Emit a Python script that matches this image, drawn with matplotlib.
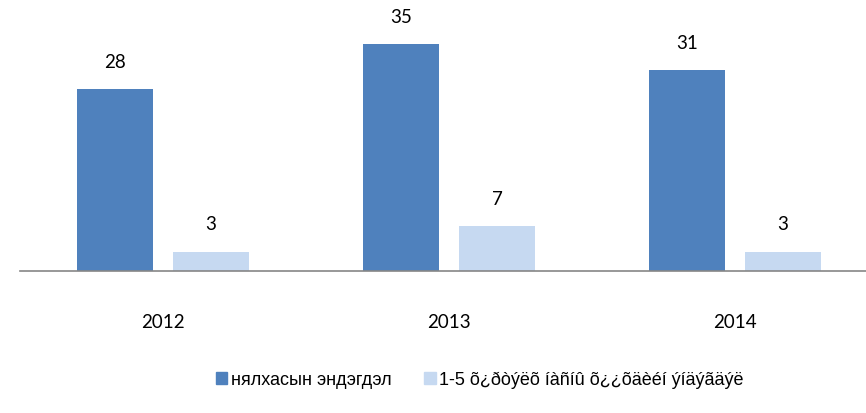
import matplotlib
matplotlib.use("Agg")
import matplotlib.pyplot as plt
from matplotlib.patches import Patch
import numpy as np

plt.rcParams['font.family'] = ['Liberation Sans', 'DejaVu Sans']
num_font = ['Lato', 'DejaVu Sans']

years = ["2012", "2013", "2014"]
series1_name = "нялхасын эндэгдэл"
series2_name = "1-5 õ¿ðòýëõ íàñíû õ¿¿õäèéí ýíäýãäýë"
series1 = [28, 35, 31]
series2 = [3, 7, 3]

W, H = 866, 413
fig = plt.figure(figsize=(W/100, H/100), dpi=100)
ax_left, ax_right = 20/W, 1.0
ax_bottom, ax_top = 1 - 271/H, 1.0
ax = fig.add_axes([ax_left, ax_bottom, ax_right - ax_left, ax_top - ax_bottom])

x = np.arange(len(years))
bw = 76/286
gap = 20/286
off = (bw + gap)/2
c1, c2 = "#4F81BD", "#C6D9F1"
b1 = ax.bar(x - off, series1, bw, color=c1)
b2 = ax.bar(x + off, series2, bw, color=c2)

for bars, vals in ((b1, series1), (b2, series2)):
    for r, v in zip(bars, vals):
        ax.annotate(str(v), (r.get_x() + r.get_width()/2, v), xytext=(0, 13),
                    textcoords="offset points", ha="center", va="bottom",
                    fontsize=13.5, family=num_font)

ax.set_xlim(-0.5, -0.5 + (W - 20)/286)
ax.set_ylim(0, 271/6.49)
for s in ("top", "right", "left"):
    ax.spines[s].set_visible(False)
ax.spines["bottom"].set_color("#868686")
ax.spines["bottom"].set_linewidth(1.2)
ax.set_yticks([])
ax.set_xticks(x)
ax.set_xticklabels(years, fontsize=13.5, family=num_font)
ax.tick_params(axis="x", length=0, pad=31)

handles = [Patch(color=c1), Patch(color=c2)]
fig.legend(handles, [series1_name, series2_name], loc="center", bbox_to_anchor=(0.554, 1 - 380/H),
           ncol=2, frameon=False, fontsize=13, handlelength=0.65, handleheight=0.65,
           handletextpad=0.2, columnspacing=1.8)

fig.savefig("out.png", dpi=100)
